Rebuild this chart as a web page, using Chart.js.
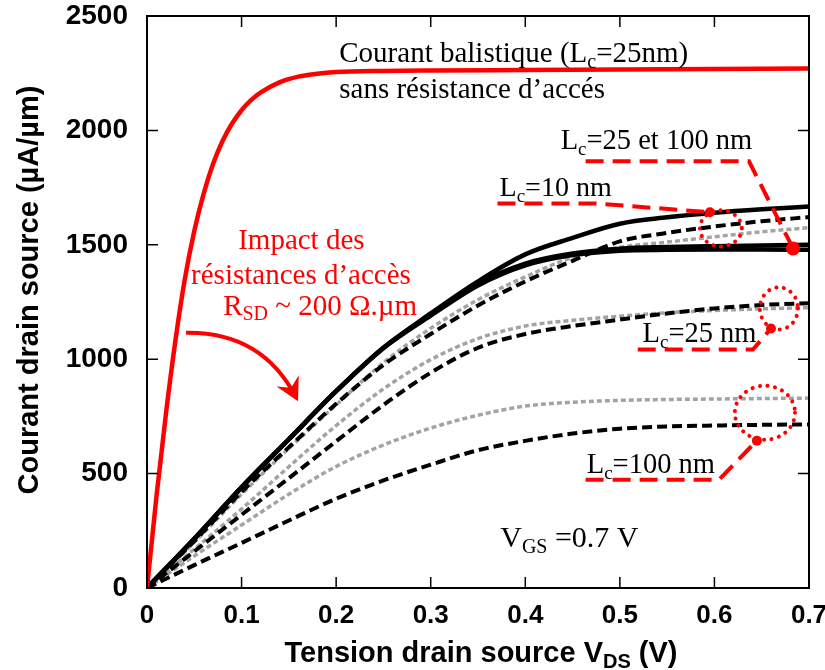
<!DOCTYPE html>
<html>
<head>
<meta charset="utf-8">
<script src="https://cdn.jsdelivr.net/npm/chart.js@4.4.1/dist/chart.umd.min.js"></script>
<style>
html,body{margin:0;padding:0;background:#fff;}
#wrap{width:825px;height:670px;position:relative;}
</style>
</head>
<body>
<div id="wrap"><canvas id="c" width="825" height="670"></canvas></div>
<script>
// ---- Data (V_DS in volts, I_DS in µA/µm) ----
const vGrid = [0,0.05,0.1,0.15,0.2,0.25,0.3,0.35,0.4,0.45,0.5,0.55,0.6,0.65,0.7];

const ballisticV = [0,0.01,0.02,0.03,0.04,0.05,0.06,0.07,0.08,0.09,0.10,0.11,0.12,0.14,0.16,0.18,0.2,0.25,0.3,0.4,0.5,0.6,0.7];
const ballisticI = [0,400,760,1080,1350,1560,1725,1855,1955,2030,2088,2132,2165,2210,2235,2248,2255,2260,2262,2264,2266,2268,2270];

const solidLc10   = [0,215,440,650,860,1050,1200,1340,1458,1530,1592,1620,1640,1655,1667];
const solidLc25   = [0,215,440,650,860,1050,1195,1330,1418,1462,1483,1490,1494,1497,1500];
const solidLc100  = [0,215,440,650,860,1048,1190,1322,1410,1455,1474,1478,1479,1479,1478];

const dashedLc10  = [0,205,420,615,805,975,1110,1235,1340,1430,1515,1552,1580,1603,1621];
const grayLc10    = [0,200,410,610,800,985,1135,1260,1360,1445,1489,1512,1535,1557,1575];

const grayLc25    = [0,170,345,530,710,870,998,1090,1145,1170,1188,1203,1213,1220,1225];
const dashedLc25  = [0,160,320,480,641,800,941,1050,1110,1145,1173,1200,1222,1237,1245];

const grayLc100   = [0,140,275,410,531,625,699,755,795,812,820,824,826,828,830];
const dashedLc100 = [0,100,197,295,390,470,539,602,643,675,696,706,710,713,715];

const xTicks = [0,0.1,0.2,0.3,0.4,0.5,0.6,0.7];
const yTicks = [0,500,1000,1500,2000,2500];

// ---- helpers ----
const pts = (xs, ys) => xs.map((v,i)=>({x:v, y:ys[i]}));
const RED = '#ff0000', GRAY = '#a3a3a3';
function solid(data, color, w){ return {data, borderColor:color, borderWidth:w, pointRadius:0, fill:false, cubicInterpolationMode:'monotone'}; }
function dashed(data){ return {data, borderColor:'#000', borderWidth:4, borderDash:[10,5], pointRadius:0, fill:false, cubicInterpolationMode:'monotone'}; }
function dotted(data){ return {data, borderColor:GRAY, borderWidth:3.5, borderDash:[5,3], pointRadius:0, fill:false, cubicInterpolationMode:'monotone'}; }

const datasets = [
  solid(pts(ballisticV, ballisticI), RED, 4.5),
  solid(pts(vGrid, solidLc10), '#000', 4.5),
  solid(pts(vGrid, solidLc25), '#000', 4.5),
  solid(pts(vGrid, solidLc100), '#000', 4.5),
  dashed(pts(vGrid, dashedLc10)),
  dashed(pts(vGrid, dashedLc25)),
  dashed(pts(vGrid, dashedLc100)),
  dotted(pts(vGrid, grayLc10)),
  dotted(pts(vGrid, grayLc25)),
  dotted(pts(vGrid, grayLc100)),
];

// ---- annotations (positions in data units) ----
const SERIF = "'Liberation Serif', 'Times New Roman', serif";
const SANS = "'Liberation Sans', Arial, sans-serif";
const texts = [
  {at:[0.2033,2299], size:29, color:'#000', parts:[['Courant balistique (L'],['c',1],['=25nm)']]},
  {at:[0.2033,2140], size:29, color:'#000', parts:[['sans résistance d’accés']]},
  {at:[0.4374,1918], size:28.5, color:'#000', parts:[['L'],['c',1],['=25 et 100 nm']]},
  {at:[0.3728,1712], size:28, color:'#000', parts:[['L'],['c',1],['=10 nm']]},
  {at:[0.5240,1073], size:28.5, color:'#000', parts:[['L'],['c',1],['=25 nm']]},
  {at:[0.4650,503],  size:28.5, color:'#000', parts:[['L'],['c',1],['=100 nm']]},
  {at:[0.3735,179],  size:30, color:'#000', parts:[['V'],['GS',1],[' =0.7 V']]},
  {at:[0.0964,1480], size:29, color:RED, parts:[['Impact des']]},
  {at:[0.0466,1327], size:29, color:RED, parts:[['résistances d’accès']]},
  {at:[0.0805,1195], size:29, color:RED, parts:[['R'],['SD',1],[' ~ 200 Ω.µm']]},
];
const leaders = [
  [[0.4638,1865],[0.6365,1865],[0.6831,1484]],
  [[0.3706,1681],[0.4744,1681],[0.5952,1642]],
  [[0.5189,1042],[0.6407,1042],[0.6598,1134]],
  [[0.4638,473],[0.6047,473],[0.6449,644]],
];
const dots = [[0.6831,1484,7],[0.5952,1642,5],[0.6598,1134,5],[0.6449,644,5]];
const rings = [[0.6068,1572,0.0222,79],[0.6682,1222,0.0201,92],[0.6534,766,0.0318,118]];
const arrow = {from:[0.0413,1116], ctrl:[0.1218,1121], to:[0.1578,832]};

function drawRich(ctx, parts, x, y, size, color, family){
  ctx.fillStyle = color; ctx.textBaseline = 'alphabetic'; ctx.textAlign='left';
  let cx = x;
  for (const [t, sub] of parts){
    if (sub){
      ctx.font = `${Math.round(size*0.68)}px ${family}`;
      ctx.fillText(t, cx, y + size*0.2);
    } else {
      ctx.font = `${size}px ${family}`;
      ctx.fillText(t, cx, y);
    }
    cx += ctx.measureText(t).width;
  }
}

const decor = {
  id:'decor',
  afterDatasetsDraw(chart){
    const {ctx, chartArea:a, scales:{x, y}} = chart;
    const X = v => x.getPixelForValue(v), Y = v => y.getPixelForValue(v);
    ctx.save();
    // frame
    ctx.strokeStyle = '#000'; ctx.lineWidth = 2; ctx.setLineDash([]);
    ctx.strokeRect(a.left, a.top, a.right - a.left, a.bottom - a.top);
    // inward ticks
    ctx.lineWidth = 1.5; ctx.beginPath();
    xTicks.slice(1,-1).forEach(v => { const px = X(v);
      ctx.moveTo(px, a.bottom); ctx.lineTo(px, a.bottom - 11);
      ctx.moveTo(px, a.top); ctx.lineTo(px, a.top + 11); });
    yTicks.slice(1,-1).forEach(v => { const py = Y(v);
      ctx.moveTo(a.left, py); ctx.lineTo(a.left + 11, py);
      ctx.moveTo(a.right, py); ctx.lineTo(a.right - 11, py); });
    ctx.stroke();

    // texts
    texts.forEach(t => drawRich(ctx, t.parts, X(t.at[0]), Y(t.at[1]), t.size, t.color, SERIF));

    // leaders
    ctx.strokeStyle = RED; ctx.lineWidth = 4; ctx.setLineDash([18,9]); ctx.lineCap='butt';
    leaders.forEach(l => { ctx.beginPath(); l.forEach((p,i)=> i? ctx.lineTo(X(p[0]),Y(p[1])) : ctx.moveTo(X(p[0]),Y(p[1]))); ctx.stroke(); });
    // rings
    ctx.setLineDash([0.1,7.5]); ctx.lineCap='round'; ctx.lineWidth = 4;
    rings.forEach(r => { ctx.beginPath();
      ctx.ellipse(X(r[0]), Y(r[1]), X(r[0]+r[2]) - X(r[0]), Y(r[1]) - Y(r[1]+r[3]), 0, 0, Math.PI*2);
      ctx.stroke(); });
    ctx.setLineDash([]); ctx.lineCap='butt';
    // dots
    ctx.fillStyle = RED;
    dots.forEach(d => { ctx.beginPath(); ctx.arc(X(d[0]), Y(d[1]), d[2], 0, Math.PI*2); ctx.fill(); });
    // curved arrow
    const s = [X(arrow.from[0]), Y(arrow.from[1])], c = [X(arrow.ctrl[0]), Y(arrow.ctrl[1])], e = [X(arrow.to[0]), Y(arrow.to[1])];
    ctx.lineWidth = 4; ctx.strokeStyle = RED;
    ctx.beginPath(); ctx.moveTo(s[0], s[1]); ctx.quadraticCurveTo(c[0], c[1], e[0], e[1]); ctx.stroke();
    let dx = e[0]-c[0], dy = e[1]-c[1]; const L = Math.hypot(dx,dy); dx/=L; dy/=L;
    const tip = [e[0]+dx*4, e[1]+dy*4];
    const rot = (ang) => { const bx=-dx, by=-dy; return [bx*Math.cos(ang)-by*Math.sin(ang), bx*Math.sin(ang)+by*Math.cos(ang)]; };
    const w1 = rot(0.5), w2 = rot(-0.5);
    ctx.beginPath();
    ctx.moveTo(tip[0], tip[1]);
    ctx.lineTo(tip[0]+w1[0]*26, tip[1]+w1[1]*26);
    ctx.lineTo(tip[0]-dx*15, tip[1]-dy*15);
    ctx.lineTo(tip[0]+w2[0]*26, tip[1]+w2[1]*26);
    ctx.closePath(); ctx.fill();

    // axis titles
    ctx.fillStyle = '#000';
    ctx.save();
    ctx.translate(30, (a.top + a.bottom)/2 - 12);
    ctx.rotate(-Math.PI/2);
    ctx.font = `bold 29px ${SANS}`; ctx.textAlign='center'; ctx.textBaseline='middle';
    ctx.fillText('Courant drain source (µA/µm)', 0, 0);
    ctx.restore();
    // x title with subscript
    const partsX = [['Tension drain source V'],['DS',1],[' (V)']];
    const fs = 29;
    let wTot = 0;
    partsX.forEach(([t,sub]) => { ctx.font = `bold ${sub?Math.round(fs*0.68):fs}px ${SANS}`; wTot += ctx.measureText(t).width; });
    let cx = 481 - wTot/2;
    const by = 662;
    ctx.textAlign='left'; ctx.textBaseline='alphabetic';
    partsX.forEach(([t,sub]) => { ctx.font = `bold ${sub?Math.round(fs*0.68):fs}px ${SANS}`; ctx.fillText(t, cx, sub? by+6 : by); cx += ctx.measureText(t).width; });
    ctx.restore();
  }
};

new Chart(document.getElementById('c'), {
  type: 'line',
  data: { datasets },
  options: {
    responsive: false, animation: false, devicePixelRatio: 1,
    layout: { padding: { top: 16, right: 16, left: 0, bottom: 0 } },
    plugins: { legend: { display: false }, tooltip: { enabled: false } },
    scales: {
      x: {
        type: 'linear', min: 0, max: 0.7,
        afterBuildTicks: s => { s.ticks = xTicks.map(v => ({value: v})); },
        ticks: { color:'#000', padding: 12, font: { family: SANS, size: 26, weight: 'bold' },
                 callback: v => v === 0 ? '0' : v.toFixed(1), maxRotation: 0 },
        grid: { display: false, drawTicks: false }, border: { display: false },
        afterFit: s => { s.height = 82; s.paddingLeft = 0; s.paddingRight = 0; }
      },
      y: {
        type: 'linear', min: 0, max: 2500,
        afterBuildTicks: s => { s.ticks = yTicks.map(v => ({value: v})); },
        ticks: { color:'#000', padding: 19, font: { family: SANS, size: 28, weight: 'bold' },
                 callback: v => String(v) },
        grid: { display: false, drawTicks: false }, border: { display: false },
        afterFit: s => { s.width = 147; s.paddingTop = 0; s.paddingBottom = 0; }
      }
    }
  },
  plugins: [decor]
});
</script>
</body>
</html>
